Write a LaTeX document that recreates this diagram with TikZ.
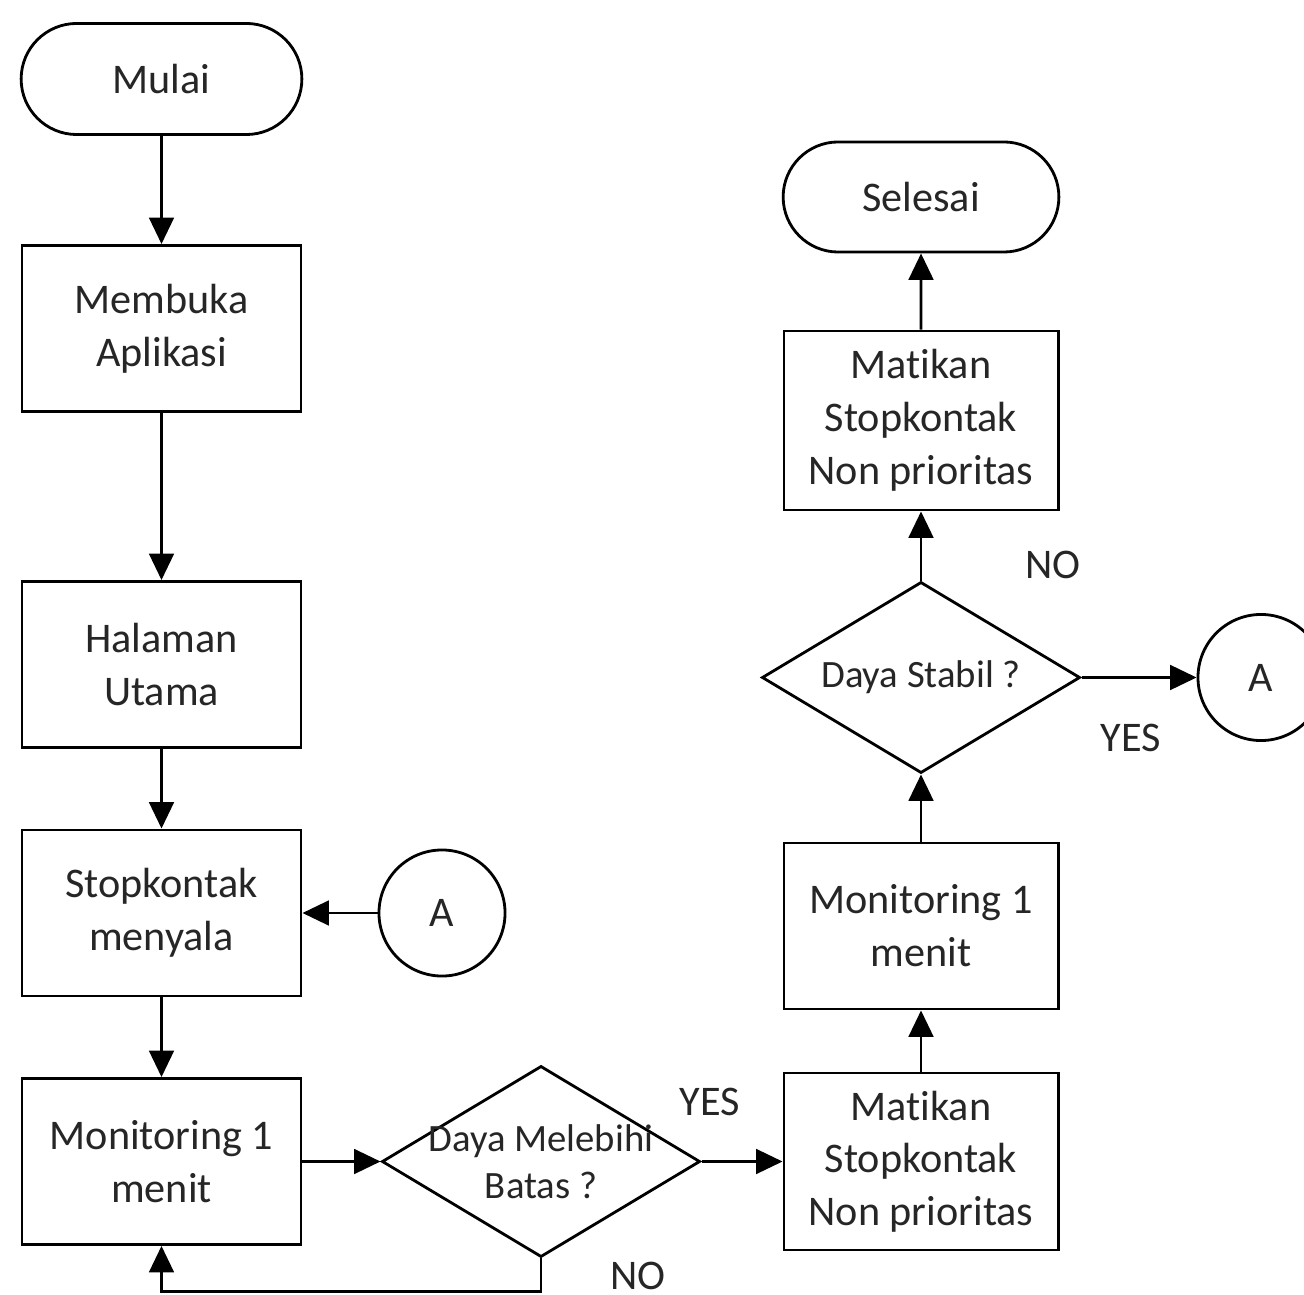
\documentclass[tikz,border=0pt]{standalone}
\usepackage{fontspec}
\setmainfont{Carlito}[Ligatures=NoCommon]
\usetikzlibrary{
  arrows.meta,
  shapes.misc,
  shapes.geometric,
  chains,
  scopes
}

\begin{document}
\begin{tikzpicture}[
      x=0.01cm, y=-0.01cm,
      terminal/.style={
         rounded rectangle,
         minimum width=3.04cm,
         minimum height=1.11cm,
         draw=black, fill=white,
         font=\fontsize{12}{15}\selectfont,
         text=black!85
      },
      process/.style={
         rectangle,
         minimum width=2.79cm,
         minimum height=1.66cm,
         draw=black, fill=white,
         align=center,
         font=\fontsize{12}{15}\selectfont,
         text=black!85
      },
      decision/.style={
         diamond,
         minimum width=3.18cm,
         minimum height=1.91cm,
         inner sep=0pt,
         draw=black, fill=white
      },
      connector/.style={
         circle,
         minimum size=1.26cm,
         draw=black, fill=white,
         font=\fontsize{12}{15}\selectfont,
         text=black!85
      },
      answer/.style={
         font=\fontsize{12}{15}\selectfont,
         text=black!85
      },
      back loop/.style={
         to path={-- ++(0,#1) -| (\tikztotarget)}
      },
      >={Triangle[length=7.5pt,width=7pt]},line width=0.8pt,
      flow/.style={->},every join/.style={rounded corners},
    ]
    \useasboundingbox (0,0) rectangle (1304,1295);

    % left column
    \node (mulai) [terminal] at (161.5,79) {Mulai};
    \node (buka) [process] at (161.5,328.5) {Membuka\\Aplikasi};
    \node (utama) [process] at (161.5,664.5) {Halaman\\Utama};
    \node (nyala) [process] at (161.5,913) {Stopkontak\\menyala};
    \node (mon1) [process] at (161.5,1161.5) {Monitoring 1\\menit};
    \node (aleft) [connector] at (442,913) {A};
    \node (dec1) [decision, label={[answer,align=center,font=\fontsize{11}{13.5}\selectfont]center:Daya Melebihi\\Batas ?}] at (541,1161.5) {};

    % right column
    \node (mat1) [process, minimum width=2.74cm, minimum height=1.77cm] at (921,1161.5) {Matikan\\Stopkontak\\Non prioritas};
    \node (mon2) [process, minimum width=2.74cm] at (921,926) {Monitoring 1\\menit};
    \node (dec2) [decision, label={[answer,font=\fontsize{11}{13.5}\selectfont]center:Daya Stabil ?}] at (921,677.5) {};
    \node (aright) [connector] at (1261,677.5) {A};
    \node (mat2) [process, minimum width=2.74cm, minimum height=1.79cm] at (921,420.5) {Matikan\\Stopkontak\\Non prioritas};
    \node (selesai) [terminal, minimum width=2.99cm, minimum height=1.10cm] at (921,197) {Selesai};

    % answers
    \node (yes1) [answer] at (710,1102) {YES};
    \node (no1) [answer] at (638,1276) {NO};
    \node (no2) [answer] at (1053,565) {NO};
    \node (yes2) [answer] at (1131,738) {YES};

  { [start chain]
       \chainin (mulai);
       \chainin (buka)    [join=by flow];
  }
  { [start chain]
       \chainin (buka);
       \chainin (utama)    [join=by flow];
  }
  { [start chain]
       \chainin (utama);
       \chainin (nyala)    [join=by flow];
  }
  { [start chain]
       \chainin (aleft);
       \chainin (nyala)    [join=by flow];
  }
  { [start chain]
       \chainin (nyala);
       \chainin (mon1)    [join=by flow];
  }
  { [start chain]
       \chainin (mon1);
       \chainin (dec1)    [join=by flow];
  }
  { [start chain]
       \chainin (dec1);
       \chainin (mat1)    [join=by flow];
  }
  { [start chain]
       \chainin (mat1);
       \chainin (mon2)    [join=by flow];
  }
  { [start chain]
       \chainin (mon2);
       \chainin (dec2)    [join=by flow];
  }
  { [start chain]
       \chainin (dec2);
       \chainin (aright)    [join=by flow];
  }
  { [start chain]
       \chainin (dec2);
       \chainin (mat2)    [join=by flow];
  }
  { [start chain]
       \chainin (mat2);
       \chainin (selesai)    [join=by flow];
  }
    \draw [flow] (dec1.south) to [back loop=33] (mon1);
\end{tikzpicture}
\end{document}
